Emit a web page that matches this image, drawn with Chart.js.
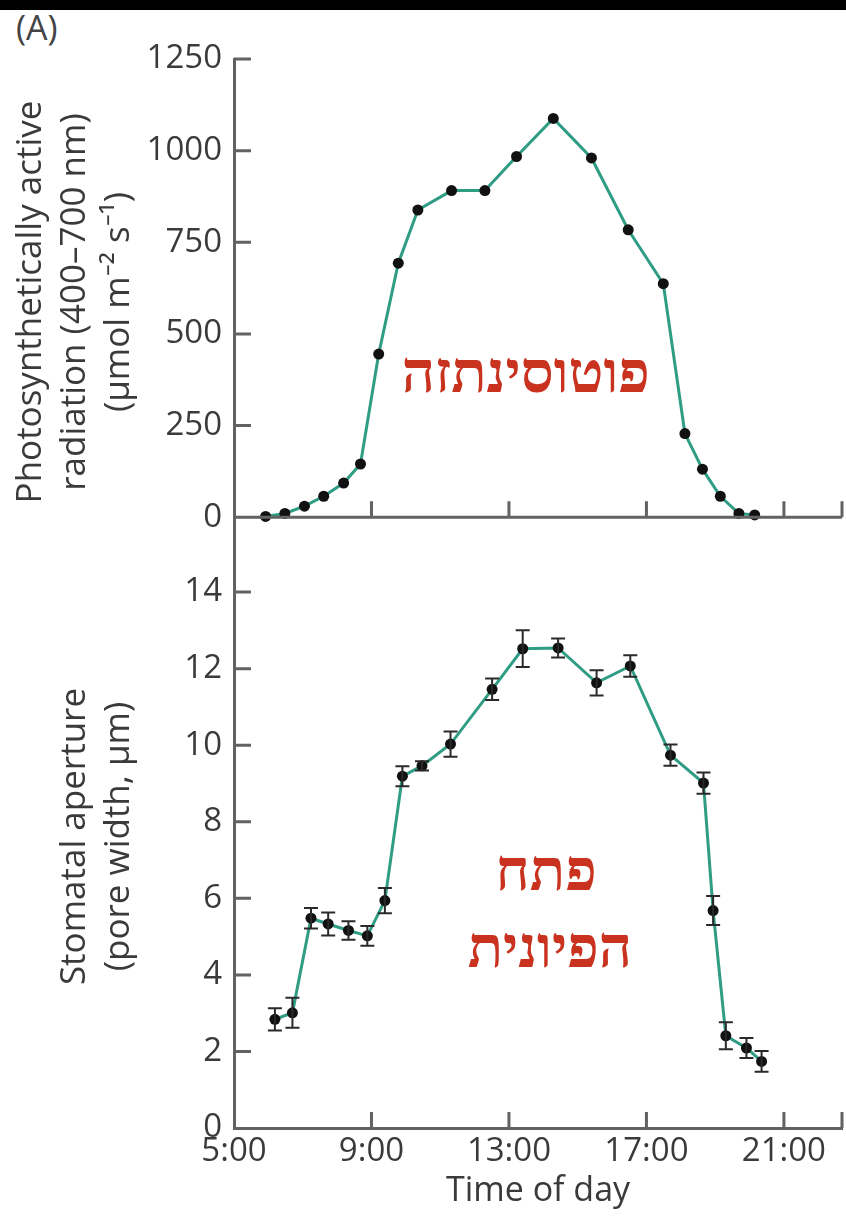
<!DOCTYPE html>
<html lang="en">
<head>
<meta charset="UTF-8">
<title>Photosynthetically active radiation and stomatal aperture</title>
<script src="https://cdn.jsdelivr.net/npm/chart.js"></script>
<style>
    body {
        margin: 0;
        background: #fff;
        width: 846px;
        height: 1218px;
        overflow: hidden;
        position: relative;
        font-family: 'Open Sans', sans-serif;
    }
    .topbar {
        position: absolute;
        left: 0; top: 0;
        width: 846px; height: 10px;
        background: #000;
    }
    .panel {
        position: absolute;
        left: 16px; top: 4px;
        font-size: 34px;
        color: #444;
    }
    #parWrap { position: absolute; left: 0; top: 0; }
    #apWrap { position: absolute; left: 0; top: 545px; }
</style>
</head>
<body>
<div class="topbar"></div>
<div class="panel">(A)</div>
<div id="parWrap"><canvas id="parChart" width="846" height="545"></canvas></div>
<div id="apWrap"><canvas id="apChart" width="846" height="673"></canvas></div>
<script>
    // Données
    const parHours = [5.92, 6.48, 7.05, 7.61, 8.19, 8.68, 9.21, 9.78, 10.35, 11.33, 12.30, 13.22, 14.29, 15.40, 16.47, 17.49, 18.12, 18.63, 19.15, 19.69, 20.15];
    const parValues = [2, 10, 30, 57, 93, 145, 445, 693, 838, 891, 891, 984, 1088, 980, 784, 637, 228, 131, 57, 10, 6];

    const apertureHours = [6.19, 6.70, 7.24, 7.74, 8.33, 8.88, 9.39, 9.90, 10.47, 11.30, 12.51, 13.40, 14.43, 15.55, 16.53, 17.70, 18.66, 18.94, 19.31, 19.91, 20.35];
    const apertureValues = [2.84, 3.01, 5.48, 5.33, 5.16, 5.02, 5.94, 9.19, 9.46, 10.03, 11.46, 12.52, 12.54, 11.63, 12.07, 9.74, 9.01, 5.68, 2.41, 2.09, 1.74];
    const apertureErrors = [0.29, 0.39, 0.27, 0.30, 0.24, 0.26, 0.33, 0.26, 0.12, 0.33, 0.28, 0.48, 0.25, 0.33, 0.28, 0.28, 0.28, 0.38, 0.35, 0.26, 0.27];

    const hourLabels = [5, 9, 13, 17, 21];
    const hourMarks = [9, 13, 17, 21, 22.69];
    const parTicks = [0, 250, 500, 750, 1000, 1250];
    const apertureTicks = [0, 2, 4, 6, 8, 10, 12, 14];

    const parNote = ['פוטוסינתזה'];
    const apertureNote = ['פתח', 'הפיונית'];

    const axisColor = '#626262';
    const textColor = '#3a3a3a';
    const lineColor = '#2f9c84';
    const noteColor = '#c8321e';
    const tickFont = { family: "'Open Sans', sans-serif", size: 33 };
    const titleFont = { family: "'Open Sans', sans-serif", size: 35, lineHeight: 1.26 };

    // Graduations tournées vers l'intérieur + axe des x à y = 0
    const inwardTicks = {
        id: 'inwardTicks',
        afterDraw(chart, args, opts) {
            const { ctx, chartArea, scales: { x, y } } = chart;
            const y0 = y.getPixelForValue(0);
            ctx.save();
            ctx.strokeStyle = axisColor;
            ctx.lineWidth = 3;
            ctx.beginPath();
            if (opts.drawXLine) {
                ctx.moveTo(chartArea.left, y0);
                ctx.lineTo(chartArea.right, y0);
            }
            hourMarks.forEach(v => {
                const px = x.getPixelForValue(v);
                ctx.moveTo(px, y0);
                ctx.lineTo(px, y0 - 16);
            });
            opts.yTicks.forEach(v => {
                if (v === 0) return;
                const py = y.getPixelForValue(v);
                ctx.moveTo(chartArea.left, py);
                ctx.lineTo(chartArea.left + 17, py);
            });
            ctx.stroke();
            ctx.restore();
        }
    };

    // Barres d'erreur
    const errorBars = {
        id: 'errorBars',
        afterDatasetsDraw(chart, args, opts) {
            if (!opts.errors) return;
            const { ctx, scales: { x, y } } = chart;
            ctx.save();
            ctx.strokeStyle = '#2a2a2a';
            ctx.lineWidth = 2;
            ctx.beginPath();
            chart.data.datasets[0].data.forEach((p, i) => {
                const e = opts.errors[i];
                const px = x.getPixelForValue(p.x);
                const top = y.getPixelForValue(p.y + e);
                const bot = y.getPixelForValue(p.y - e);
                ctx.moveTo(px, top); ctx.lineTo(px, bot);
                ctx.moveTo(px - 7, top); ctx.lineTo(px + 7, top);
                ctx.moveTo(px - 7, bot); ctx.lineTo(px + 7, bot);
            });
            ctx.stroke();
            ctx.restore();
        }
    };

    // Texte en hébreu
    const notes = {
        id: 'notes',
        afterDraw(chart, args, opts) {
            const { ctx, scales: { x, y } } = chart;
            ctx.save();
            ctx.fillStyle = noteColor;
            ctx.font = "bold 58px 'Liberation Serif', 'DejaVu Serif', serif";
            ctx.textAlign = 'center';
            ctx.textBaseline = 'middle';
            ctx.direction = 'rtl';
            opts.lines.forEach((t, i) => {
                ctx.fillText(t, x.getPixelForValue(opts.at[i][0]), y.getPixelForValue(opts.at[i][1]));
            });
            ctx.restore();
        }
    };

    // pas de marge automatique pour les étiquettes du haut et du bas
    function fixY(s) {
        s.width = 234;
        s.paddingTop = 0;
        s.paddingBottom = 0;
    }

    function lineDataset(xs, ys) {
        return {
            data: xs.map((h, i) => ({ x: h, y: ys[i] })),
            borderColor: lineColor,
            borderWidth: 3,
            pointRadius: 5.5,
            pointBackgroundColor: '#111',
            pointBorderWidth: 0,
            tension: 0,
            clip: false
        };
    }

    Chart.defaults.animation = false;

    new Chart(document.getElementById('parChart'), {
        type: 'line',
        data: { datasets: [lineDataset(parHours, parValues)] },
        plugins: [inwardTicks, notes],
        options: {
            responsive: false,
            layout: { autoPadding: false, padding: { left: 0, right: 4, top: 59, bottom: 0 } },
            plugins: {
                legend: { display: false },
                tooltip: { enabled: false },
                inwardTicks: { drawXLine: true, yTicks: parTicks },
                notes: { lines: parNote, at: [[13.49, 382]] }
            },
            scales: {
                x: { type: 'linear', min: 5, max: 22.69, display: false },
                y: {
                    min: -76, max: 1250,
                    afterFit: fixY,
                    afterBuildTicks: s => { s.ticks = parTicks.map(v => ({ value: v })); },
                    grid: { display: false, drawTicks: false },
                    border: { display: true, color: axisColor, width: 3 },
                    ticks: { padding: 12, color: textColor, font: tickFont, callback: v => String(v) },
                    title: {
                        display: true,
                        text: ['Photosynthetically active', 'radiation (400–700 nm)', '(μmol m⁻² s⁻¹)'],
                        color: textColor,
                        font: titleFont,
                        padding: { top: 9, bottom: 0 }
                    }
                }
            }
        }
    });

    new Chart(document.getElementById('apChart'), {
        type: 'line',
        data: { datasets: [lineDataset(apertureHours, apertureValues)] },
        plugins: [inwardTicks, errorBars, notes],
        options: {
            responsive: false,
            layout: { autoPadding: false, padding: { left: 0, right: 4, top: 0, bottom: 0 } },
            plugins: {
                legend: { display: false },
                tooltip: { enabled: false },
                inwardTicks: { drawXLine: false, yTicks: apertureTicks },
                errorBars: { errors: apertureErrors },
                notes: { lines: apertureNote, at: [[14.08, 6.6], [14.19, 4.6]] }
            },
            scales: {
                x: {
                    type: 'linear', min: 5, max: 22.69,
                    afterFit: s => { s.height = 90; s.paddingLeft = 0; s.paddingRight = 0; },
                    afterBuildTicks: s => { s.ticks = hourLabels.map(v => ({ value: v })); },
                    grid: { display: false, drawTicks: false },
                    border: { display: true, color: axisColor, width: 3 },
                    ticks: { padding: 4, color: textColor, font: tickFont, maxRotation: 0, callback: v => v + ':00' },
                    title: {
                        display: true,
                        text: 'Time of day',
                        color: textColor,
                        font: { family: "'Open Sans', sans-serif", size: 34 },
                        padding: { top: 0, bottom: 6 }
                    }
                },
                y: {
                    min: 0, max: 15.23,
                    afterFit: fixY,
                    afterBuildTicks: s => { s.ticks = apertureTicks.map(v => ({ value: v })); },
                    grid: { display: false, drawTicks: false },
                    border: { display: true, color: axisColor, width: 3 },
                    ticks: { padding: 12, color: textColor, font: tickFont, callback: v => String(v) },
                    title: {
                        display: true,
                        text: ['Stomatal aperture', '(pore width, μm)'],
                        color: textColor,
                        font: titleFont,
                        padding: { top: 53, bottom: 0 }
                    }
                }
            }
        }
    });
</script>
</body>
</html>
